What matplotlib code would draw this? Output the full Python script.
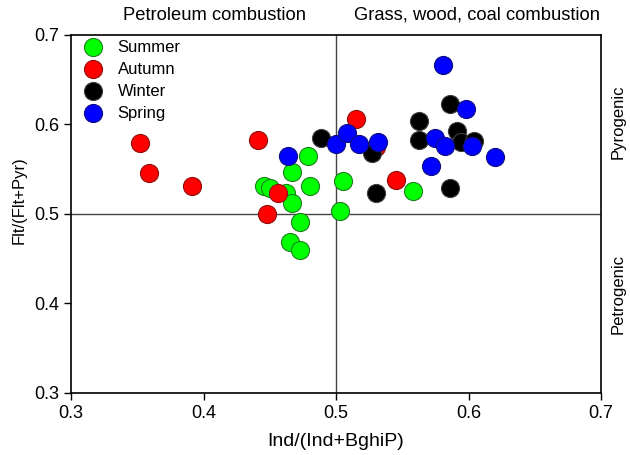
import matplotlib.pyplot as plt

plt.rcParams['font.family'] = ['Liberation Sans', 'DejaVu Sans']

# Ind/(Ind+BghiP) and Flt/(Flt+Pyr) ratios by season
summer_x = [0.479, 0.467, 0.480, 0.446, 0.450, 0.462, 0.467, 0.473, 0.465, 0.473, 0.505, 0.503, 0.558]
summer_y = [0.564, 0.547, 0.531, 0.531, 0.529, 0.523, 0.512, 0.491, 0.469, 0.460, 0.537, 0.503, 0.525]

autumn_x = [0.352, 0.359, 0.391, 0.441, 0.456, 0.448, 0.515, 0.545, 0.530]
autumn_y = [0.579, 0.545, 0.531, 0.582, 0.523, 0.500, 0.606, 0.538, 0.574]

winter_x = [0.489, 0.527, 0.530, 0.563, 0.563, 0.586, 0.591, 0.594, 0.604, 0.586]
winter_y = [0.585, 0.568, 0.523, 0.603, 0.582, 0.623, 0.592, 0.580, 0.581, 0.529]

spring_x = [0.464, 0.500, 0.508, 0.517, 0.532, 0.581, 0.598, 0.575, 0.582, 0.603, 0.620, 0.572]
spring_y = [0.565, 0.578, 0.590, 0.578, 0.580, 0.666, 0.617, 0.585, 0.576, 0.576, 0.563, 0.553]

seasons = [
    ("Summer", summer_x, summer_y, "#00ff00", "#208020"),
    ("Autumn", autumn_x, autumn_y, "#ff0000", "#901010"),
    ("Winter", winter_x, winter_y, "#000000", "#404040"),
    ("Spring", spring_x, spring_y, "#0000ff", "#101080"),
]

fig = plt.figure(figsize=(6.3, 4.55), dpi=100)
ax = fig.add_axes([0.1127, 0.1363, 0.8413, 0.7877])

ax.axvline(0.5, color="#444444", lw=1.0, zorder=1)
ax.axhline(0.5, color="#444444", lw=1.0, zorder=1)

for name, xs, ys, face, edge in seasons:
    ax.scatter(xs, ys, s=170, c=face, edgecolors=edge, linewidths=0.8, label=name, zorder=3)

ax.set_xlim(0.3, 0.7)
ax.set_ylim(0.3, 0.7)
ax.set_xticks([0.3, 0.4, 0.5, 0.6, 0.7])
ax.set_yticks([0.3, 0.4, 0.5, 0.6, 0.7])
ax.tick_params(direction="out", length=5, width=1, labelsize=13)
for sp in ax.spines.values():
    sp.set_linewidth(1.2)

ax.set_xlabel("Ind/(Ind+BghiP)", fontsize=14, labelpad=8)
ax.set_ylabel("Flt/(Flt+Pyr)", fontsize=12)
ax.yaxis.label.set_va("center")
ax.yaxis.set_label_coords(-0.098, 0.538)

ax.text(0.408, 0.712, "Petroleum combustion", fontsize=13.2, ha="center", va="bottom")
ax.text(0.699, 0.712, "Grass, wood, coal combustion", fontsize=13.2, ha="right", va="bottom")
ax.text(1.032, 0.603, "Pyrogenic", transform=ax.get_yaxis_transform(), rotation=90,
        fontsize=12, ha="center", va="center")
ax.text(1.032, 0.41, "Petrogenic", transform=ax.get_yaxis_transform(), rotation=90,
        fontsize=12, ha="center", va="center")

ax.legend(loc="upper left", frameon=False, fontsize=12, handletextpad=0.5,
          labelspacing=0.42, borderaxespad=0.0, borderpad=0.3, scatterpoints=1)

fig.savefig("out.png", dpi=100)
